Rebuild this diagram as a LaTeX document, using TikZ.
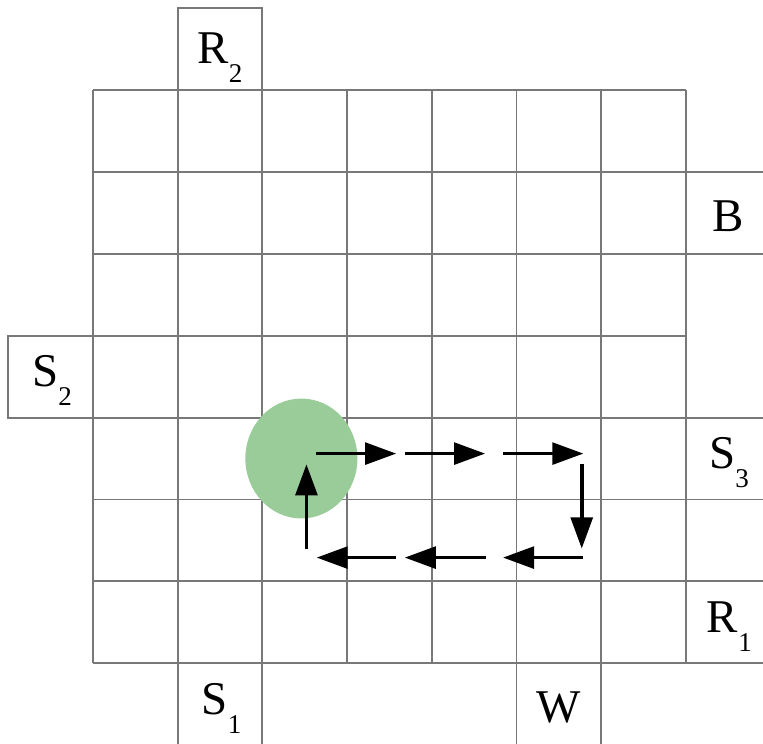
\documentclass[tikz,border=0pt]{standalone}
\usepackage{fontspec}
\setmainfont{Liberation Serif}
\newfontfamily\labfont{Liberation Serif}
\usetikzlibrary{arrows.meta,shapes.geometric}
\definecolor{gridgray}{RGB}{120,120,120}
\definecolor{agentgreen}{RGB}{153,204,153}
\newcommand{\sublab}[2]{#1\raisebox{-14pt}{\fontsize{20}{20}\selectfont #2}}

\begin{document}
\begin{tikzpicture}[x=2.2cm,y=2.127cm,
  cell/.style={draw=gridgray,line width=1.4pt},
  lab/.style={anchor=base west,inner sep=0pt,font=\labfont\fontsize{34.7}{40}\selectfont},
  move/.style={line width=2.8pt,-{Triangle[length=23pt,width=16pt]}}]
  \useasboundingbox (-1.098,-0.985) rectangle (7.910,8.099);
  \clip (-1.098,-0.985) rectangle (7.910,8.099);
  % board
  \draw[cell,step=1] (0,0) grid (7,7);
  % outer cells
  \draw[cell] (1,7) rectangle (2,8);
  \draw[cell] (7,5) rectangle (8,6);
  \draw[cell] (-1,3) rectangle (0,4);
  \draw[cell] (7,2) rectangle (8,3);
  \draw[cell] (7,1) rectangle (8,2);
  \draw[cell] (7,0) rectangle (8,1);
  \draw[cell] (1,-1) rectangle (2,0);
  \draw[cell] (5,-1) rectangle (6,0);
  % labels
  \node[lab] (r2) at (1.231,7.326) {\sublab{R}{2}};
  \node[lab] (b) at (7.316,5.278) {B};
  \node[lab] (s2) at (-0.720,3.377) {\sublab{S}{2}};
  \node[lab] (s3) at (7.273,2.381) {\sublab{S}{3}};
  \node[lab] (r1) at (7.245,0.370) {\sublab{R}{1}};
  \node[lab] (s1) at (1.282,-0.631) {\sublab{S}{1}};
  \node[lab] (w) at (5.238,-0.720) {W};
  % agent
  \node[ellipse,fill=agentgreen,minimum width=82.8pt,minimum height=88.6pt,inner sep=0pt] (agent) at (2.46,2.50) {};
  % path
  \coordinate (t1) at (2.63,2.56);
  \coordinate (t2) at (3.58,2.56);
  \coordinate (t3) at (3.68,2.56);
  \coordinate (t4) at (4.63,2.56);
  \coordinate (t5) at (4.84,2.56);
  \coordinate (t6) at (5.79,2.56);
  \coordinate (d1) at (5.77,2.43);
  \coordinate (d2) at (5.77,1.40);
  \coordinate (b1) at (5.79,1.29);
  \coordinate (b2) at (4.84,1.29);
  \coordinate (b3) at (4.64,1.29);
  \coordinate (b4) at (3.68,1.29);
  \coordinate (b5) at (3.58,1.29);
  \coordinate (b6) at (2.64,1.29);
  \coordinate (u1) at (2.52,1.39);
  \coordinate (u2) at (2.52,2.43);
  \draw[move] (t1) -- (t2);
  \draw[move] (t3) -- (t4);
  \draw[move] (t5) -- (t6);
  \draw[move] (d1) -- (d2);
  \draw[move] (b1) -- (b2);
  \draw[move] (b3) -- (b4);
  \draw[move] (b5) -- (b6);
  \draw[move] (u1) -- (u2);
\end{tikzpicture}
\end{document}
